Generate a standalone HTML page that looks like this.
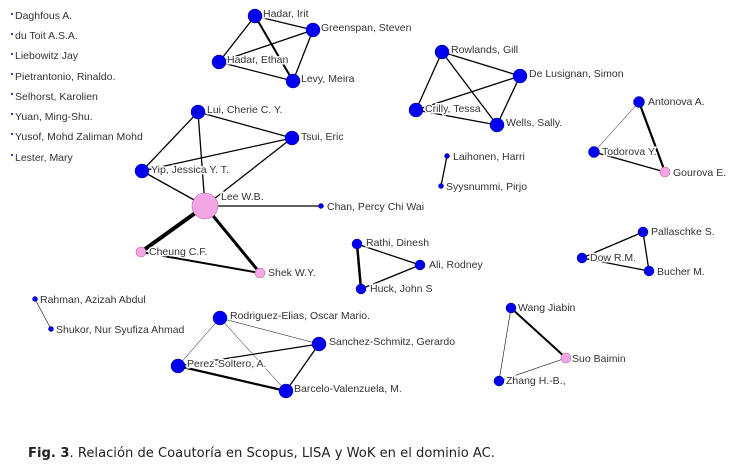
<!DOCTYPE html>
<html><head><meta charset="utf-8"><style>
html,body{margin:0;padding:0;background:#fff;}
svg{display:block;}
text{font-family:"Liberation Sans",sans-serif;font-size:10.5px;fill:#333;}
.l text{paint-order:stroke;stroke:#fff;stroke-width:3px;}
.cap{font-family:"DejaVu Sans",sans-serif;font-size:13px;fill:#222;}
</style></head><body>
<svg width="736" height="476" viewBox="0 0 736 476" xmlns="http://www.w3.org/2000/svg">
<g stroke="#000" stroke-width="1.3" fill="none">
<line x1="255" y1="16" x2="313" y2="30"/><line x1="255" y1="16" x2="219" y2="62"/><line x1="255" y1="16" x2="293" y2="81" stroke-width="2"/>
<line x1="313" y1="30" x2="219" y2="62"/><line x1="313" y1="30" x2="293" y2="81"/><line x1="219" y1="62" x2="293" y2="81"/>
<line x1="442" y1="52" x2="520" y2="76"/><line x1="442" y1="52" x2="416" y2="110"/><line x1="442" y1="52" x2="497" y2="125"/>
<line x1="520" y1="76" x2="416" y2="110"/><line x1="520" y1="76" x2="497" y2="125"/><line x1="416" y1="110" x2="497" y2="125"/>
<line x1="639" y1="102" x2="594" y2="152" stroke-width="0.5"/><line x1="639" y1="102" x2="665" y2="172" stroke-width="2.2"/><line x1="594" y1="152" x2="665" y2="172"/>
<line x1="447" y1="156" x2="441" y2="186"/>
<line x1="198" y1="112" x2="292" y2="138"/><line x1="198" y1="112" x2="142" y2="171"/><line x1="198" y1="112" x2="205" y2="206"/>
<line x1="292" y1="138" x2="142" y2="171"/><line x1="292" y1="138" x2="205" y2="206"/><line x1="142" y1="171" x2="205" y2="206"/>
<line x1="205" y1="206" x2="321" y2="206"/><line x1="205" y1="206" x2="141" y2="252" stroke-width="4"/><line x1="205" y1="206" x2="260" y2="273" stroke-width="3"/>
<line x1="141" y1="252" x2="260" y2="273" stroke-width="2"/>
<line x1="357" y1="244" x2="420" y2="265"/><line x1="357" y1="244" x2="361" y2="289" stroke-width="2.5"/><line x1="420" y1="265" x2="361" y2="289"/>
<line x1="643" y1="232" x2="582" y2="258"/><line x1="643" y1="232" x2="649" y2="271"/><line x1="582" y1="258" x2="649" y2="271"/>
<line x1="35" y1="299" x2="51" y2="329" stroke-width="0.6"/>
<line x1="220" y1="318" x2="319" y2="344" stroke-width="0.5"/><line x1="220" y1="318" x2="178" y2="366" stroke-width="0.5"/><line x1="220" y1="318" x2="286" y2="391" stroke-width="0.5"/>
<line x1="178" y1="366" x2="319" y2="344"/><line x1="319" y1="344" x2="286" y2="391"/><line x1="178" y1="366" x2="286" y2="391" stroke-width="2.2"/>
<line x1="511" y1="308" x2="566" y2="358" stroke-width="2"/><line x1="511" y1="308" x2="499" y2="381" stroke-width="0.6"/><line x1="566" y1="358" x2="499" y2="381" stroke-width="0.6"/>
</g>
<g class="l">
<text x="263" y="17">Hadar, Irit</text><text x="321" y="31">Greenspan, Steven</text><text x="227" y="63">Hadar, Ethan</text><text x="301" y="82">Levy, Meira</text>
<text x="451" y="53">Rowlands, Gill</text><text x="529" y="77">De Lusignan, Simon</text><text x="425" y="112">Crilly, Tessa</text><text x="506" y="126">Wells, Sally.</text>
<text x="648" y="105">Antonova A.</text><text x="602" y="155">Todorova Y.</text><text x="673" y="176">Gourova E.</text>
<text x="453" y="160">Laihonen, Harri</text><text x="446" y="190">Syysnummi, Pirjo</text>
<text x="207" y="113">Lui, Cherie C. Y.</text><text x="301" y="140">Tsui, Eric</text><text x="151" y="173">Yip, Jessica Y. T.</text>
<text x="221" y="200">Lee W.B.</text><text x="327" y="210">Chan, Percy Chi Wai</text><text x="149" y="255">Cheung C.F.</text><text x="268" y="276">Shek W.Y.</text>
<text x="366" y="246">Rathi, Dinesh</text><text x="429" y="268">Ali, Rodney</text><text x="370" y="292">Huck, John S</text>
<text x="651" y="235">Pallaschke S.</text><text x="590" y="261">Dow R.M.</text><text x="657" y="275">Bucher M.</text>
<text x="40" y="303">Rahman, Azizah Abdul</text><text x="56" y="333">Shukor, Nur Syufiza Ahmad</text>
<text x="230" y="319">Rodriguez-Elias, Oscar Mario.</text><text x="329" y="345">Sanchez-Schmitz, Gerardo</text><text x="187" y="367">Perez-Soltero, A.</text><text x="294" y="392">Barcelo-Valenzuela, M.</text>
<text x="518" y="311">Wang Jiabin</text><text x="572" y="362">Suo Baimin</text><text x="506" y="384">Zhang H.-B.,</text>
</g>
<g fill="#0000ee" stroke="#00008a" stroke-width="0.5">
<circle cx="255" cy="16" r="7"/><circle cx="313" cy="30" r="7"/><circle cx="219" cy="62" r="7"/><circle cx="293" cy="81" r="7"/>
<circle cx="442" cy="52" r="7"/><circle cx="520" cy="76" r="7"/><circle cx="416" cy="110" r="7"/><circle cx="497" cy="125" r="7"/>
<circle cx="639" cy="102" r="5.5"/><circle cx="594" cy="152" r="5.5"/>
<circle cx="447" cy="156" r="2.5"/><circle cx="441" cy="186" r="2.5"/>
<circle cx="198" cy="112" r="7"/><circle cx="292" cy="138" r="7"/><circle cx="142" cy="171" r="7"/><circle cx="321" cy="206" r="2.5"/>
<circle cx="357" cy="244" r="5"/><circle cx="420" cy="265" r="5"/><circle cx="361" cy="289" r="5"/>
<circle cx="643" cy="232" r="5"/><circle cx="582" cy="258" r="5"/><circle cx="649" cy="271" r="5"/>
<circle cx="35" cy="299" r="2.5"/><circle cx="51" cy="329" r="2.5"/>
<circle cx="220" cy="318" r="7"/><circle cx="319" cy="344" r="7"/><circle cx="178" cy="366" r="7"/><circle cx="286" cy="391" r="7"/>
<circle cx="511" cy="308" r="5"/><circle cx="499" cy="381" r="5"/>
</g>
<g fill="#f4a6e4" stroke="#b070a0" stroke-width="0.6">
<circle cx="205" cy="206" r="13"/><circle cx="141" cy="252" r="5"/><circle cx="260" cy="273" r="5"/><circle cx="665" cy="172" r="5"/><circle cx="566" cy="358" r="5"/>
</g>
<g>
<g fill="#00008a"><circle cx="12" cy="14" r="1"/><circle cx="12" cy="34" r="1"/><circle cx="12" cy="54" r="1"/><circle cx="12" cy="74" r="1"/><circle cx="12" cy="94" r="1"/><circle cx="12" cy="114" r="1"/><circle cx="12" cy="134" r="1"/><circle cx="12" cy="155" r="1"/></g>
<text x="15" y="19">Daghfous A.</text><text x="15" y="39">du Toit A.S.A.</text><text x="15" y="59">Liebowitz Jay</text><text x="15" y="80">Pietrantonio, Rinaldo.</text>
<text x="15" y="100">Selhorst, Karolien</text><text x="15" y="120">Yuan, Ming-Shu.</text><text x="15" y="140">Yusof, Mohd Zaliman Mohd</text><text x="15" y="161">Lester, Mary</text>
</g>
<text class="cap" x="28" y="457" textLength="467" lengthAdjust="spacingAndGlyphs"><tspan font-weight="bold">Fig. 3</tspan>. Relación de Coautoría en Scopus, LISA  y WoK en el dominio AC.</text>
</svg>
</body></html>
